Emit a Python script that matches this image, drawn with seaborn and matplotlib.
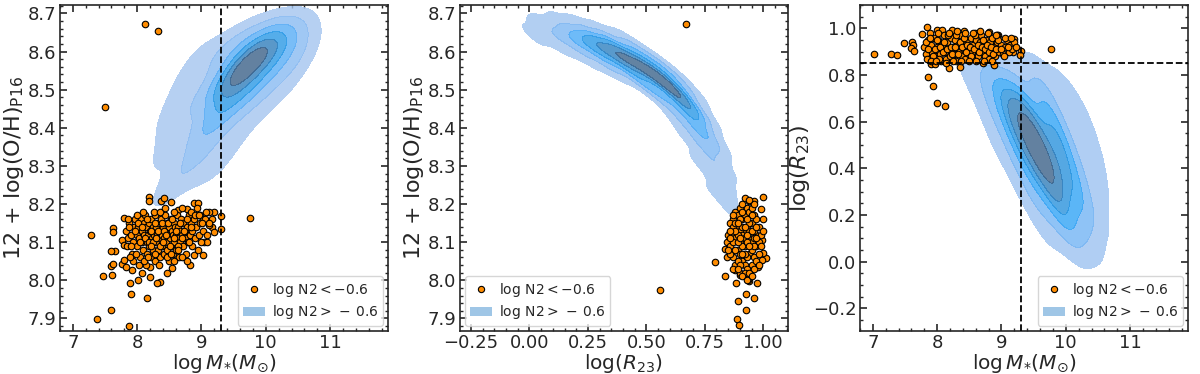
import numpy as np
import pandas as pd
import matplotlib
matplotlib.use("Agg")
import matplotlib.pyplot as plt
import seaborn as sns
from matplotlib.ticker import AutoMinorLocator
from matplotlib.lines import Line2D
from matplotlib.patches import Patch

sns.set_style("ticks")
plt.rcParams['font.family'] = ['DejaVu Sans']
plt.rcParams['mathtext.fontset'] = 'dejavusans'

# ---------------- data: low-N2 galaxies (orange points) ----------------
# panel 1: (log M*, 12+log(O/H))
p1_points = [
    (8.12, 8.672), (8.33, 8.654), (7.50, 8.454), (9.76, 8.163),
    (7.28, 8.118), (7.38, 7.898), (7.60, 7.921), (7.875, 7.880), (7.47, 8.011), (7.61, 8.013),
    (7.60, 8.037), (7.62, 8.044), (7.65, 8.077), (7.60, 8.077), (7.89, 7.992), (7.91, 7.964),
    (8.16, 7.954), (7.80, 8.164), (7.63, 8.138), (7.63, 8.127), (8.18, 8.219), (8.18, 8.208),
    (8.37, 8.207), (8.42, 8.216), (8.52, 8.205), (8.88, 8.203), (8.94, 8.203), (9.31, 8.169),
    (9.31, 8.135), (9.19, 8.179), (9.16, 8.162), (9.04, 8.10), (9.08, 8.10), (9.02, 8.066),
    (8.88, 8.067), (8.82, 8.041), (8.77, 8.05), (8.54, 8.031), (8.46, 8.018), (8.36, 7.996),
    (8.31, 7.994), (8.20, 8.009), (8.20, 8.035), (8.07, 8.02), (8.02, 8.00), (7.76, 8.105),
    (7.79, 8.092), (7.77, 8.044), (7.83, 8.035), (7.80, 8.052), (7.92, 8.026), (9.16, 8.14),
    (9.12, 8.144), (9.19, 8.127), (8.98, 8.17), (9.03, 8.162), (9.11, 8.179), (8.77, 8.188),
    (8.64, 8.184),
    (7.82, 8.13), (7.86, 8.11), (7.84, 8.09), (7.88, 8.15), (7.90, 8.12), (7.93, 8.10), (7.95, 8.14),
    (7.92, 8.07), (7.97, 8.16), (7.99, 8.12), (8.00, 8.09), (8.02, 8.14), (8.03, 8.11), (8.05, 8.06),
    (8.06, 8.16), (8.07, 8.13), (8.08, 8.10), (8.09, 8.08), (8.10, 8.15), (8.11, 8.12), (8.12, 8.17),
    (8.13, 8.04), (8.14, 8.14), (8.15, 8.10), (8.16, 8.07), (8.17, 8.12), (8.18, 8.15), (8.19, 8.09),
    (8.20, 8.13), (8.21, 8.06), (8.22, 8.16), (8.23, 8.11), (8.24, 8.14), (8.25, 8.08), (8.26, 8.12),
    (8.27, 8.05), (8.28, 8.17), (8.29, 8.10), (8.30, 8.14), (8.31, 8.12), (8.32, 8.08), (8.33, 8.15),
    (8.34, 8.11), (8.35, 8.06), (8.36, 8.13), (8.37, 8.16), (8.38, 8.09), (8.39, 8.12), (8.40, 8.14),
    (8.41, 8.07), (8.42, 8.11), (8.43, 8.17), (8.44, 8.13), (8.45, 8.10), (8.46, 8.15), (8.47, 8.08),
    (8.48, 8.12), (8.49, 8.05), (8.50, 8.14), (8.51, 8.11), (8.52, 8.16), (8.53, 8.09), (8.54, 8.13),
    (8.55, 8.07), (8.56, 8.12), (8.57, 8.15), (8.58, 8.10), (8.59, 8.14), (8.60, 8.08), (8.61, 8.12),
    (8.62, 8.17), (8.63, 8.11), (8.64, 8.14), (8.65, 8.06), (8.66, 8.10), (8.67, 8.13), (8.68, 8.16),
    (8.70, 8.12), (8.71, 8.09), (8.72, 8.15), (8.74, 8.11), (8.75, 8.13), (8.76, 8.07), (8.78, 8.14),
    (8.79, 8.10), (8.80, 8.17), (8.82, 8.12), (8.83, 8.15), (8.85, 8.09), (8.86, 8.13), (8.88, 8.16),
    (8.90, 8.11), (8.92, 8.14), (8.94, 8.08), (8.96, 8.12), (8.98, 8.15), (9.00, 8.10), (9.03, 8.13),
    (9.06, 8.16), (9.09, 8.12),
    (7.87, 8.14), (7.91, 8.09), (7.96, 8.13), (8.01, 8.15), (8.04, 8.10), (8.08, 8.14), (8.12, 8.11),
    (8.15, 8.16), (8.18, 8.10), (8.21, 8.13), (8.24, 8.10), (8.27, 8.15), (8.30, 8.11), (8.33, 8.13),
    (8.36, 8.09), (8.39, 8.15), (8.42, 8.13), (8.45, 8.12), (8.48, 8.15), (8.51, 8.09), (8.54, 8.16),
    (8.57, 8.11), (8.60, 8.13), (8.63, 8.09), (8.66, 8.15), (8.69, 8.11), (8.73, 8.13), (8.77, 8.16),
    (8.81, 8.10), (8.84, 8.14), (7.94, 8.05), (7.98, 8.07), (8.03, 8.04), (8.10, 8.05), (8.17, 8.06),
    (8.22, 8.09), (8.28, 8.07), (8.34, 8.04), (8.40, 8.10), (8.46, 8.06), (8.52, 8.07), (8.58, 8.05),
    (8.64, 8.08), (8.70, 8.06), (7.85, 8.16), (7.89, 8.06), (8.00, 8.17), (8.09, 8.18), (8.26, 8.18),
    (8.35, 8.18), (8.44, 8.19), (8.58, 8.18), (8.70, 8.19), (8.83, 8.18), (8.90, 8.17), (8.96, 8.17),
    (9.01, 8.15), (9.07, 8.18), (9.12, 8.15), (8.93, 8.19),
]

# panel 2: (log R23, 12+log(O/H))
p2_points = [
    (0.67, 8.672), (0.558, 7.974), (0.922, 8.216), (0.939, 8.207), (0.962, 8.207), (0.998, 8.219),
    (0.794, 8.048), (0.836, 8.011), (0.879, 8.026), (0.883, 7.994), (0.926, 7.965), (0.960, 7.954),
    (0.892, 7.945), (0.926, 7.921), (0.888, 7.898), (0.896, 7.882), (1.01, 8.059), (1.00, 8.071),
    (0.972, 7.992), (0.939, 7.998), (0.99, 8.188), (1.00, 8.162), (0.993, 8.105), (0.872, 8.162),
    (0.858, 8.127), (0.844, 8.10), (0.836, 8.083), (0.844, 8.061), (0.90, 8.013), (0.936, 8.00),
    (0.979, 8.035), (0.993, 8.052),
    (0.86, 8.15), (0.87, 8.12), (0.88, 8.18), (0.89, 8.14), (0.90, 8.10), (0.91, 8.16), (0.92, 8.13),
    (0.93, 8.19), (0.94, 8.11), (0.95, 8.15), (0.96, 8.17), (0.97, 8.12), (0.86, 8.09), (0.87, 8.06),
    (0.88, 8.11), (0.89, 8.08), (0.90, 8.13), (0.91, 8.05), (0.92, 8.09), (0.93, 8.14), (0.94, 8.07),
    (0.95, 8.10), (0.96, 8.06), (0.97, 8.09), (0.98, 8.14), (0.85, 8.12), (0.86, 8.07), (0.87, 8.14),
    (0.88, 8.04), (0.89, 8.17), (0.90, 8.07), (0.91, 8.12), (0.92, 8.17), (0.93, 8.06), (0.94, 8.15),
    (0.95, 8.04), (0.96, 8.13), (0.97, 8.16), (0.98, 8.10), (0.87, 8.10), (0.88, 8.08), (0.89, 8.12),
    (0.90, 8.16), (0.91, 8.09), (0.92, 8.11), (0.93, 8.10), (0.94, 8.13), (0.95, 8.08), (0.96, 8.11),
    (0.97, 8.05), (0.98, 8.07), (0.88, 8.15), (0.89, 8.05), (0.90, 8.19), (0.91, 8.14), (0.92, 8.04),
    (0.93, 8.12), (0.94, 8.18), (0.95, 8.13), (0.96, 8.09), (0.97, 8.14), (0.99, 8.12), (0.85, 8.08),
    (0.86, 8.11), (0.87, 8.03), (0.88, 8.13), (0.89, 8.10), (0.90, 8.04), (0.91, 8.18), (0.92, 8.07),
    (0.93, 8.03), (0.94, 8.09), (0.95, 8.17), (0.96, 8.03), (0.97, 8.11), (0.98, 8.04), (0.90, 8.02),
    (0.92, 8.02), (0.94, 8.02), (0.91, 8.01), (0.93, 8.00), (0.95, 8.01), (0.89, 8.03), (0.99, 8.09),
    (1.00, 8.13), (0.86, 8.13), (0.87, 8.17), (0.93, 8.16), (0.95, 8.19), (0.91, 8.20), (0.96, 8.20),
    (0.94, 8.21), (0.92, 8.14), (0.90, 8.11), (0.91, 8.07), (0.89, 8.15),
]

# panel 3: (log M*, log R23)
p3_points = [
    (7.02, 0.889), (7.28, 0.890), (7.38, 0.884), (7.48, 0.936), (7.61, 0.943), (7.63, 0.928),
    (7.60, 0.914), (7.64, 0.903), (7.86, 0.79), (7.94, 0.754), (7.99, 0.678), (8.12, 0.668),
    (7.84, 1.004), (7.99, 0.994), (8.07, 0.994), (8.19, 0.829), (8.36, 0.834), (9.31, 0.905),
    (9.29, 0.885), (9.77, 0.911), (8.88, 0.843), (8.71, 0.853), (7.76, 0.974), (7.89, 0.979),
    (8.23, 0.993), (8.41, 0.989), (8.59, 0.979), (8.80, 0.986), (8.94, 0.971), (9.19, 0.954),
    (7.91, 0.846), (7.97, 0.846), (8.93, 0.971), (9.18, 0.90),
    (7.80, 0.92), (7.83, 0.89), (7.85, 0.95), (7.88, 0.87), (7.90, 0.93), (7.92, 0.90), (7.95, 0.96),
    (7.97, 0.88), (8.00, 0.92), (8.02, 0.95), (8.04, 0.89), (8.06, 0.86), (8.08, 0.93), (8.10, 0.97),
    (8.12, 0.90), (8.14, 0.87), (8.16, 0.94), (8.18, 0.91), (8.20, 0.88), (8.22, 0.96), (8.24, 0.92),
    (8.26, 0.89), (8.28, 0.95), (8.30, 0.86), (8.32, 0.93), (8.34, 0.90), (8.36, 0.97), (8.38, 0.88),
    (8.40, 0.94), (8.42, 0.91), (8.44, 0.87), (8.46, 0.95), (8.48, 0.92), (8.50, 0.89), (8.52, 0.96),
    (8.54, 0.90), (8.56, 0.93), (8.58, 0.87), (8.60, 0.95), (8.62, 0.91), (8.64, 0.88), (8.66, 0.94),
    (8.68, 0.97), (8.70, 0.90), (8.72, 0.93), (8.74, 0.88), (8.76, 0.95), (8.78, 0.91), (8.80, 0.87),
    (8.82, 0.94), (8.84, 0.90), (8.86, 0.96), (8.88, 0.92), (8.90, 0.88), (8.93, 0.94), (8.96, 0.90),
    (8.99, 0.93), (9.02, 0.89), (9.05, 0.92), (9.08, 0.95), (9.11, 0.90), (9.14, 0.93), (9.17, 0.91),
    (9.20, 0.94), (9.23, 0.92), (7.82, 0.94), (7.86, 0.91), (7.89, 0.96), (7.93, 0.88), (7.96, 0.91),
    (7.99, 0.95), (8.03, 0.87), (8.05, 0.92), (8.09, 0.90), (8.11, 0.94), (8.15, 0.91), (8.17, 0.97),
    (8.21, 0.92), (8.23, 0.89), (8.27, 0.92), (8.29, 0.97), (8.33, 0.89), (8.35, 0.94), (8.39, 0.92),
    (8.41, 0.96), (8.45, 0.90), (8.47, 0.93), (8.51, 0.92), (8.53, 0.88), (8.57, 0.91), (8.59, 0.97),
    (8.63, 0.93), (8.65, 0.90), (8.69, 0.92), (8.71, 0.95), (8.75, 0.91), (8.77, 0.93), (8.81, 0.90),
    (8.83, 0.92), (8.87, 0.89), (8.91, 0.91), (8.95, 0.95), (9.00, 0.91), (9.04, 0.88), (9.10, 0.92),
    (7.84, 0.87), (7.91, 0.86), (7.98, 0.86), (8.13, 0.85), (8.25, 0.86), (8.37, 0.86), (8.49, 0.86),
    (8.61, 0.86), (8.73, 0.86), (8.85, 0.86), (8.02, 0.98), (8.18, 0.98), (8.31, 0.99), (8.44, 0.98),
    (8.55, 0.98), (8.67, 0.99), (8.79, 0.98), (8.92, 0.97), (9.06, 0.96), (9.15, 0.96),
]

# ---------------- data: high-N2 galaxies, density read as weighted anchors ----------------
# panel 1: (log M*, 12+log(O/H), weight)
p1_density = [
    # ridge of the main clump
    (9.40, 8.515, 7), (9.56, 8.542, 9.5), (9.72, 8.565, 10), (9.88, 8.585, 8.5), (10.04, 8.598, 6),
    (10.20, 8.606, 4), (10.38, 8.610, 2.5), (10.58, 8.600, 1.2),
    # upper flank
    (9.25, 8.590, 1.5), (9.45, 8.605, 2.0), (9.65, 8.615, 2.4), (9.85, 8.625, 2.2), (10.05, 8.632, 1.6),
    (10.30, 8.635, 0.9), (10.55, 8.635, 0.4),
    # lower flank
    (9.25, 8.440, 3.5), (9.45, 8.460, 3.5), (9.65, 8.490, 3.5), (9.85, 8.515, 3), (10.05, 8.535, 2),
    (10.30, 8.550, 1.2), (10.55, 8.560, 0.5),
    # far lower flank
    (9.30, 8.30, 0.8), (9.50, 8.38, 1.5), (9.90, 8.45, 1.2), (10.30, 8.50, 0.8),
    # low-mass tail
    (9.10, 8.400, 2.5), (8.95, 8.350, 1.8), (8.80, 8.300, 1.3), (8.62, 8.260, 0.9), (8.45, 8.230, 0.6),
    (8.28, 8.210, 0.35), (9.15, 8.330, 1.0), (9.00, 8.270, 0.6), (9.05, 8.500, 1.4), (8.85, 8.450, 1.0),
    (8.65, 8.400, 0.8), (8.80, 8.550, 0.7), (8.50, 8.330, 0.6), (8.45, 8.420, 0.7), (8.30, 8.300, 0.5),
    (8.65, 8.500, 0.7), (9.00, 8.600, 0.8), (8.40, 8.360, 0.5), (8.60, 8.460, 0.6),
]
# panel 2: (log R23, 12+log(O/H), weight)
p2_density = [
    # ridge
    (0.00, 8.652, 0.5), (0.06, 8.650, 0.9), (0.12, 8.645, 1.4), (0.18, 8.636, 2.2), (0.24, 8.625, 3.2),
    (0.30, 8.612, 4.3), (0.36, 8.597, 5.2), (0.42, 8.580, 5.8), (0.48, 8.561, 6), (0.54, 8.538, 5.8),
    (0.59, 8.515, 5.2), (0.635, 8.487, 4.5), (0.675, 8.455, 3.6), (0.71, 8.420, 2.8), (0.74, 8.385, 2.2),
    (0.765, 8.350, 1.7), (0.79, 8.310, 1.3), (0.81, 8.270, 1.0), (0.83, 8.235, 0.75), (0.85, 8.200, 0.55),
    (0.87, 8.165, 0.35), (0.885, 8.130, 0.2),
    # upper edge
    (0.04, 8.680, 0.3), (0.14, 8.675, 0.6), (0.24, 8.655, 1.2), (0.34, 8.632, 2), (0.44, 8.610, 2.4),
    (0.54, 8.570, 2.3), (0.62, 8.535, 1.8), (0.69, 8.490, 1.3), (0.745, 8.430, 0.9), (0.79, 8.360, 0.6),
    (0.83, 8.290, 0.35),
    # lower edge
    (0.04, 8.625, 0.3), (0.14, 8.612, 0.6), (0.24, 8.590, 1.2), (0.34, 8.565, 2), (0.44, 8.540, 2.4),
    (0.52, 8.505, 2.3), (0.59, 8.470, 1.8), (0.645, 8.420, 1.3), (0.69, 8.370, 0.9), (0.73, 8.310, 0.6),
    (0.77, 8.240, 0.35), (0.81, 8.180, 0.2),
]
# panel 3: (log M*, log R23, weight)
p3_density = [
    # ridge
    (9.25, 0.72, 4), (9.35, 0.64, 7), (9.45, 0.57, 9), (9.55, 0.50, 10), (9.65, 0.43, 10),
    (9.75, 0.36, 8.5), (9.85, 0.28, 6.5), (9.95, 0.20, 4.5), (10.05, 0.12, 2.5), (10.15, 0.05, 1),
    # low-mass flank
    (8.95, 0.78, 3), (9.05, 0.70, 4), (9.15, 0.62, 5), (9.25, 0.54, 5), (9.35, 0.45, 4.5),
    (9.45, 0.36, 3.5), (9.55, 0.27, 2.5), (9.65, 0.18, 1.5), (9.75, 0.09, 0.8),
    # high-mass flank
    (9.60, 0.76, 2.5), (9.70, 0.67, 4), (9.80, 0.59, 5), (9.90, 0.51, 5.5), (10.00, 0.43, 5.5),
    (10.10, 0.34, 5), (10.20, 0.26, 4), (10.28, 0.17, 2.5), (10.32, 0.08, 1.2),
    # outer low-mass edge
    (8.45, 0.86, 1), (8.70, 0.82, 1.5), (8.85, 0.72, 1.5), (8.95, 0.60, 1.2), (9.10, 0.45, 0.9),
    (9.25, 0.30, 0.6), (8.20, 0.86, 0.5), (8.60, 0.76, 1.2), (8.80, 0.64, 1.3), (8.95, 0.50, 1.0),
    # outer high-mass edge
    (9.80, 0.83, 0.8), (10.05, 0.72, 1.5), (10.25, 0.60, 2), (10.40, 0.46, 2.2), (10.50, 0.32, 1.9),
    (10.55, 0.18, 1.3), (10.45, 0.06, 0.6),
    # top
    (9.20, 0.84, 1.2), (9.50, 0.84, 0.8),
]

MASS_CUT = 9.3
R23_CUT = 0.85

LABEL_LOW = r"$\log\,{\rm N2} < -0.6$"
LABEL_HIGH = r"$\log\,{\rm N2} >\,-\,0.6$"
XLAB_MASS = r"$\log M_{*}(M_{\odot})$"
LAB_OH = r"12 + log(O/H)$_{\rm P16}$"
LAB_R23 = r"log($R_{23}$)"

ORANGE = "darkorange"
KDE_COLOR = "tab:blue"
LEG_PATCH = "#9fc6e6"

fig = plt.figure(figsize=(12, 3.74), dpi=100)
axes = [fig.add_axes([x0 / 1200, 43 / 374, 328 / 1200, 326 / 374]) for x0 in (60, 460, 860)]


def style(ax):
    ax.xaxis.set_minor_locator(AutoMinorLocator())
    ax.yaxis.set_minor_locator(AutoMinorLocator())
    ax.tick_params(which="both", direction="in", top=True, right=True, labelsize=13)
    ax.tick_params(which="major", length=5, width=1.2, pad=2.5)
    ax.tick_params(which="minor", length=2.5, width=1.0)
    for s in ax.spines.values():
        s.set_linewidth(1.2)


def draw(ax, pts, dens, bw, loc):
    d = pd.DataFrame(dens, columns=["x", "y", "w"])
    sns.kdeplot(data=d, x="x", y="y", weights="w", fill=True, levels=7, thresh=0.05,
                bw_adjust=bw, color=KDE_COLOR, alpha=0.8, ax=ax, zorder=1)
    p = pd.DataFrame(pts, columns=["x", "y"])
    sns.scatterplot(data=p, x="x", y="y", color=ORANGE, edgecolor="black", s=22,
                    linewidth=0.8, zorder=3, ax=ax)
    handles = [Line2D([], [], marker="o", ls="", mfc=ORANGE, mec="black", mew=0.8, ms=4.5),
               Patch(facecolor=LEG_PATCH, edgecolor="none")]
    ax.legend(handles, [LABEL_LOW, LABEL_HIGH], loc=loc, fontsize=10, frameon=True,
              handlelength=1.6, handletextpad=0.5, borderpad=0.35, labelspacing=0.3,
              borderaxespad=0.35)


draw(axes[0], p1_points, p1_density, 0.85, "lower right")
axes[0].axvline(MASS_CUT, color="black", ls="--", lw=1.3, zorder=4)
axes[0].set_xlim(6.8, 11.9)
axes[0].set_ylim(7.867, 8.722)
axes[0].set_ylabel(LAB_OH, fontsize=16, labelpad=1)

draw(axes[1], p2_points, p2_density, 0.5, "lower left")
axes[1].set_xlim(-0.297, 1.106)
axes[1].set_ylim(7.867, 8.722)
axes[1].set_ylabel(LAB_OH, fontsize=16, labelpad=1)

draw(axes[2], p3_points, p3_density, 0.8, "lower right")
axes[2].axvline(MASS_CUT, color="black", ls="--", lw=1.3, zorder=4)
axes[2].axhline(R23_CUT, color="black", ls="--", lw=1.3, zorder=4)
axes[2].set_xlim(6.8, 11.9)
axes[2].set_ylim(-0.297, 1.1)
axes[2].set_ylabel(LAB_R23, fontsize=16, labelpad=1)

axes[0].set_xlabel(XLAB_MASS, fontsize=14.5, labelpad=0)
axes[1].set_xlabel(LAB_R23, fontsize=14.5, labelpad=0)
axes[2].set_xlabel(XLAB_MASS, fontsize=14.5, labelpad=0)

for ax in axes:
    style(ax)

fig.savefig("out.png", dpi=100)
